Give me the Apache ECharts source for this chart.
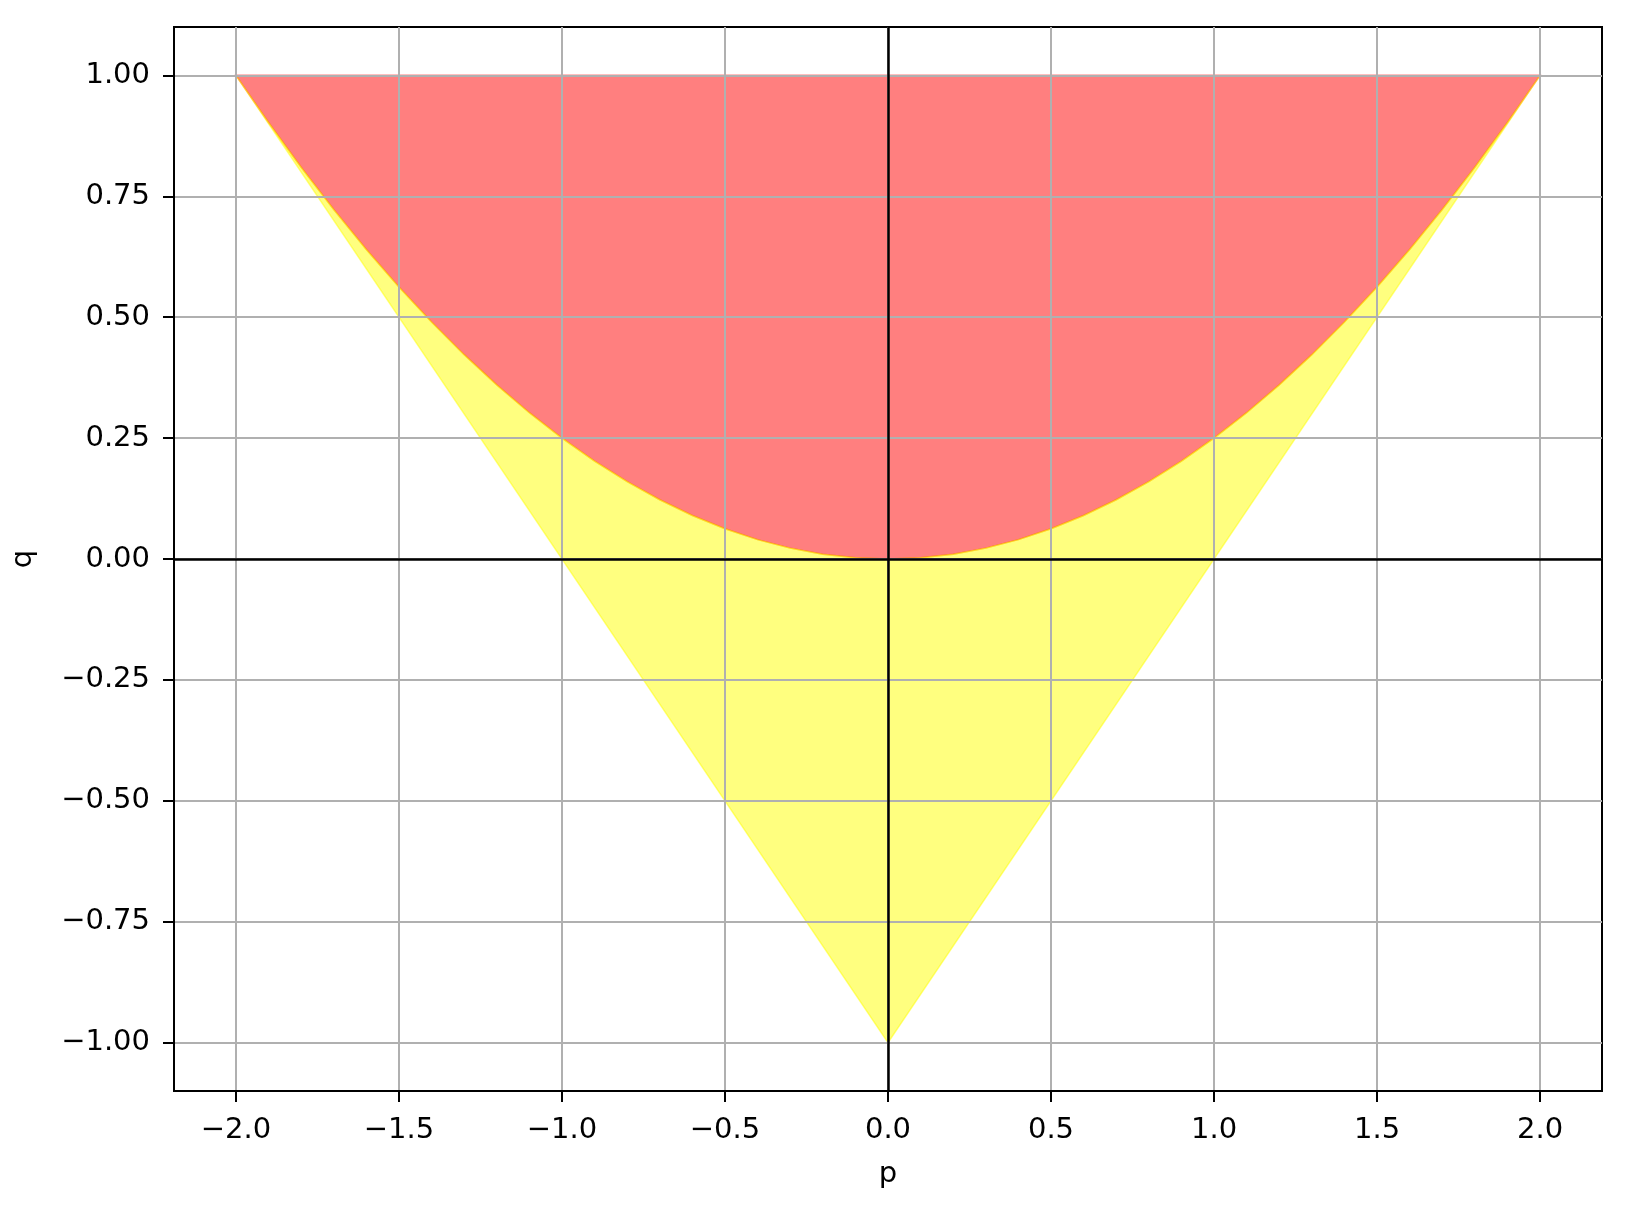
<!DOCTYPE html>
<html>
<head>
<meta charset="utf-8">
<title>p-q region</title>
<script src="https://cdn.jsdelivr.net/npm/echarts@6/dist/echarts.min.js"></script>
<style>
  html, body {margin: 0; padding: 0; background: #fff;}
  #chart {width: 1633px; height: 1206px;}
</style>
</head>
<body>
<div id="chart"></div>
<script>
// parabola boundary q(p)
var curveP = [-2, -1.9, -1.8, -1.7, -1.6, -1.5, -1.4, -1.3, -1.2, -1.1, -1, -0.9, -0.8, -0.7, -0.6, -0.5, -0.4, -0.3, -0.2, -0.1,
  0, 0.1, 0.2, 0.3, 0.4, 0.5, 0.6, 0.7, 0.8, 0.9, 1, 1.1, 1.2, 1.3, 1.4, 1.5, 1.6, 1.7, 1.8, 1.9, 2];
var curveQ = [1, 0.9025, 0.81, 0.7225, 0.64, 0.5625, 0.49, 0.4225, 0.36, 0.3025, 0.25, 0.2025, 0.16, 0.1225, 0.09, 0.0625, 0.04, 0.0225, 0.01, 0.0025,
  0, 0.0025, 0.01, 0.0225, 0.04, 0.0625, 0.09, 0.1225, 0.16, 0.2025, 0.25, 0.3025, 0.36, 0.4225, 0.49, 0.5625, 0.64, 0.7225, 0.81, 0.9025, 1];
// triangle lower edge (corners)
var triP = [-2, 0, 2];
var triQ = [1, -1, 1];
// top edge of red region
var topP = [-2, 2];
var topQ = [1, 1];
var xTicks = [-2, -1.5, -1, -0.5, 0, 0.5, 1, 1.5, 2];
var yTicks = [-1, -0.75, -0.5, -0.25, 0, 0.25, 0.5, 0.75, 1];

var FONT = 'DejaVu Sans';

function minus(s) {
  return s.replace('-', '\u2212');
}

// yellow: between triangle and parabola
var yellowPts = [];
curveP.forEach(function (p, i) { yellowPts.push([p, curveQ[i]]); });
for (var i = triP.length - 1; i >= 0; i--) yellowPts.push([triP[i], triQ[i]]);

// red: between parabola and q = 1
var redPts = [];
curveP.forEach(function (p, i) { redPts.push([p, curveQ[i]]); });
for (var j = topP.length - 1; j >= 0; j--) redPts.push([topP[j], topQ[j]]);

function polySeries(pts, color) {
  return {
    type: 'custom',
    coordinateSystem: 'cartesian2d',
    silent: true,
    z: 1,
    data: [pts[0]],
    renderItem: function (params, api) {
      return {
        type: 'polygon',
        shape: {points: pts.map(function (d) { return api.coord(d); })},
        style: {fill: color, stroke: color, lineWidth: 1.5}
      };
    }
  };
}

var chart = echarts.init(document.getElementById('chart'));
var option = {
  animation: false,
  backgroundColor: '#fff',
  grid: {
    left: 174, top: 27, width: 1428, height: 1064,
    show: true, borderColor: '#000', borderWidth: 2, backgroundColor: 'transparent', z: 0
  },
  xAxis: {
    type: 'value',
    min: -2.19, max: 2.19,
    z: 3,
    name: 'p',
    nameLocation: 'middle',
    nameGap: 69,
    nameTextStyle: {fontFamily: FONT, fontSize: 29, color: '#000'},
    axisLine: {show: true, onZero: false, lineStyle: {color: '#000', width: 2}},
    axisTick: {show: true, inside: false, length: 11, lineStyle: {color: '#000', width: 2}, customValues: xTicks},
    axisLabel: {
      fontFamily: FONT, fontSize: 29, color: '#000', margin: 25, customValues: xTicks,
      formatter: function (v) { return minus(v.toFixed(1)); }
    },
    splitLine: {show: true, lineStyle: {color: '#b0b0b0', width: 2}}
  },
  yAxis: {
    type: 'value',
    min: -1.1, max: 1.1,
    z: 3,
    name: 'q',
    nameLocation: 'middle',
    nameGap: 136,
    nameTextStyle: {fontFamily: FONT, fontSize: 29, color: '#000'},
    axisLine: {show: true, onZero: false, lineStyle: {color: '#000', width: 2}},
    axisTick: {show: true, inside: false, length: 11, lineStyle: {color: '#000', width: 2}, customValues: yTicks},
    axisLabel: {
      fontFamily: FONT, fontSize: 29, color: '#000', margin: 24, customValues: yTicks,
      formatter: function (v) { return minus(v.toFixed(2)); }
    },
    splitLine: {show: true, lineStyle: {color: '#b0b0b0', width: 2}}
  },
  series: [
    polySeries(redPts, 'rgba(255,0,0,0.5)'),
    polySeries(yellowPts, 'rgba(255,255,0,0.5)'),
    {
      // axhline / axvline at zero
      type: 'line',
      data: [],
      silent: true,
      z: 10,
      markLine: {
        silent: true,
        symbol: 'none',
        label: {show: false},
        lineStyle: {color: '#000', width: 2.5, type: 'solid'},
        data: [{yAxis: 0}, {xAxis: 0}]
      }
    }
  ]
};
chart.setOption(option);
</script>
</body>
</html>
